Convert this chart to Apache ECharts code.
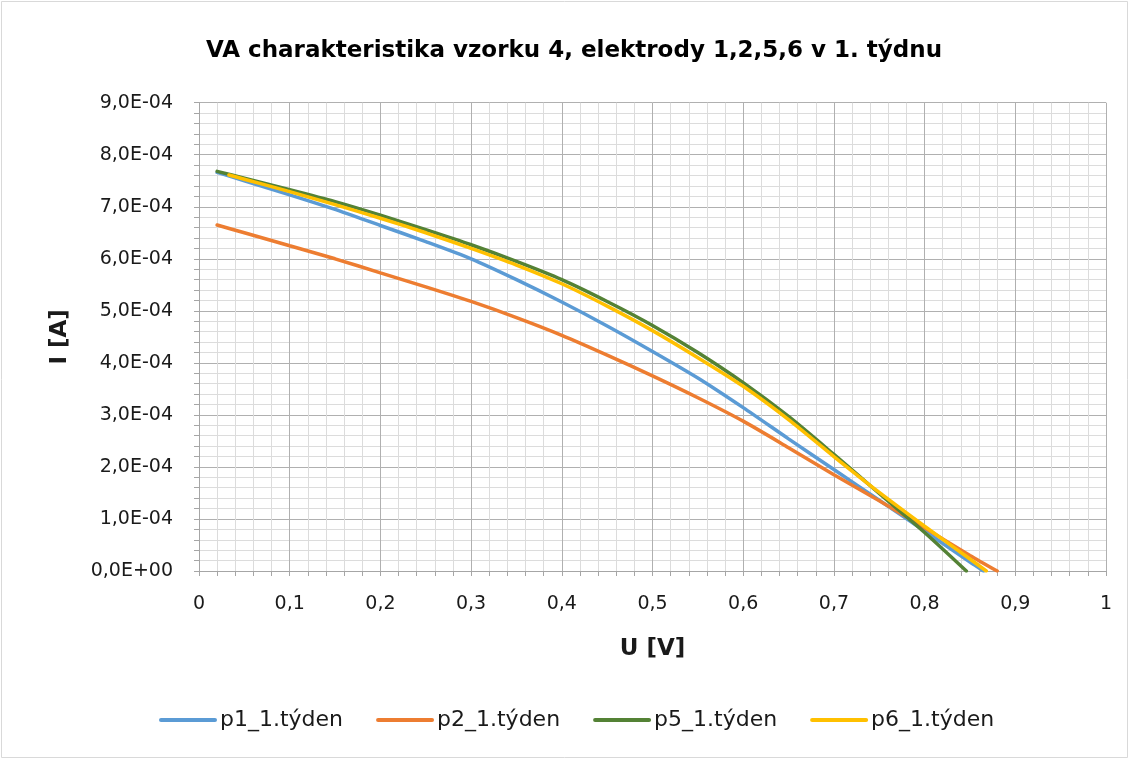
<!DOCTYPE html>
<html>
<head>
<meta charset="utf-8">
<script src="https://cdn.jsdelivr.net/npm/echarts@6/dist/echarts.min.js"></script>
<style>
html,body{margin:0;padding:0;background:#fff;}
#chart{width:1130px;height:760px;}
</style>
</head>
<body>
<div id="chart"></div>
<script>
const titleText = 'VA charakteristika vzorku 4, elektrody 1,2,5,6 v 1. týdnu';
const seriesNames = ['p1_1.týden', 'p2_1.týden', 'p5_1.týden', 'p6_1.týden'];
const seriesColors = ['#5b9bd5', '#ed7d31', '#548235', '#ffc000'];

const p1U = [0.02, 0.05, 0.1, 0.15, 0.2, 0.25, 0.3, 0.35, 0.4, 0.45, 0.5, 0.55, 0.6, 0.65, 0.7, 0.75, 0.8, 0.85, 0.865];
const p1I = [7.66e-4, 7.50e-4, 7.23e-4, 6.95e-4, 6.64e-4, 6.33e-4, 6.00e-4, 5.60e-4, 5.17e-4, 4.71e-4, 4.22e-4, 3.71e-4, 3.14e-4, 2.54e-4, 1.95e-4, 1.36e-4, 0.77e-4, 0.17e-4, 0];

const p2U = [0.02, 0.05, 0.1, 0.15, 0.2, 0.25, 0.3, 0.35, 0.4, 0.45, 0.5, 0.55, 0.6, 0.65, 0.7, 0.75, 0.8, 0.85, 0.88];
const p2I = [6.65e-4, 6.50e-4, 6.25e-4, 6.00e-4, 5.73e-4, 5.46e-4, 5.18e-4, 4.87e-4, 4.53e-4, 4.15e-4, 3.75e-4, 3.33e-4, 2.88e-4, 2.37e-4, 1.85e-4, 1.35e-4, 0.83e-4, 0.30e-4, 0];

const p5U = [0.02, 0.05, 0.1, 0.15, 0.2, 0.25, 0.3, 0.35, 0.4, 0.45, 0.5, 0.55, 0.6, 0.65, 0.7, 0.75, 0.8, 0.846];
const p5I = [7.68e-4, 7.55e-4, 7.33e-4, 7.10e-4, 6.84e-4, 6.56e-4, 6.27e-4, 5.95e-4, 5.60e-4, 5.18e-4, 4.72e-4, 4.20e-4, 3.62e-4, 2.97e-4, 2.24e-4, 1.49e-4, 0.74e-4, 0];

const p6U = [0.033, 0.05, 0.1, 0.15, 0.2, 0.25, 0.3, 0.35, 0.4, 0.45, 0.5, 0.55, 0.6, 0.65, 0.7, 0.75, 0.8, 0.85, 0.868];
const p6I = [7.61e-4, 7.53e-4, 7.29e-4, 7.04e-4, 6.78e-4, 6.50e-4, 6.20e-4, 5.88e-4, 5.52e-4, 5.09e-4, 4.62e-4, 4.10e-4, 3.55e-4, 2.91e-4, 2.20e-4, 1.51e-4, 0.86e-4, 0.23e-4, 0];

const xAxisName = 'U [V]';
const yAxisName = 'I [A]';

const allU = [p1U, p2U, p5U, p6U];
const allI = [p1I, p2I, p5I, p6I];

function fmtY(v) {
  if (Math.abs(v) < 1e-12) return '0,0E+00';
  let e = Math.floor(Math.log10(Math.abs(v)) + 1e-9);
  let m = v / Math.pow(10, e);
  return m.toFixed(1).replace('.', ',') + 'E' + (e < 0 ? '-' : '+') + String(Math.abs(e)).padStart(2, '0');
}
function fmtX(v) {
  return String(Math.round(v * 10) / 10).replace('.', ',');
}

const font = 'DejaVu Sans';
const textColor = '#1a1a1a';
const chart = echarts.init(document.getElementById('chart'), null, {renderer: 'canvas'});
chart.setOption({
  animation: false,
  backgroundColor: '#ffffff',
  title: {
    text: titleText,
    left: 201,
    top: 35,
    textStyle: {fontFamily: font, fontWeight: 'bold', fontSize: 23, color: '#000'}
  },
  graphic: [{
    type: 'rect',
    shape: {x: 1.5, y: 1.5, width: 1126, height: 756},
    style: {fill: 'none', stroke: '#d9d9d9', lineWidth: 1},
    silent: true
  }],
  grid: {left: 199, right: 24, top: 102.7, bottom: 189, containLabel: false},
  legend: {
    bottom: 24,
    left: 154,
    itemWidth: 54,
    itemHeight: 4,
    itemGap: 33,
    lineStyle: {width: 4, cap: 'round'},
    textStyle: {fontFamily: font, fontSize: 22, color: textColor},
    data: seriesNames
  },
  xAxis: {
    type: 'value',
    min: 0, max: 1, interval: 0.1,
    name: xAxisName,
    nameLocation: 'middle',
    nameGap: 67,
    nameTextStyle: {fontFamily: font, fontWeight: 'bold', fontSize: 23, color: textColor},
    axisLine: {show: true, lineStyle: {color: '#a6a6a6', width: 1}},
    axisTick: {show: true, inside: false, length: 5, lineStyle: {color: '#a6a6a6'}},
    minorTick: {show: true, splitNumber: 5, length: 5, lineStyle: {color: '#a6a6a6'}},
    splitLine: {show: true, lineStyle: {color: '#b0b0b0', width: 1}},
    minorSplitLine: {show: true, lineStyle: {color: '#dcdcdc', width: 1}},
    axisLabel: {fontFamily: font, fontSize: 19, color: textColor, margin: 24, formatter: fmtX}
  },
  yAxis: {
    type: 'value',
    min: 0, max: 9e-4, interval: 1e-4,
    name: yAxisName,
    nameLocation: 'middle',
    nameGap: 127,
    nameTextStyle: {fontFamily: font, fontWeight: 'bold', fontSize: 23, color: textColor},
    axisLine: {show: true, lineStyle: {color: '#a6a6a6', width: 1}},
    axisTick: {show: true, inside: false, length: 5, lineStyle: {color: '#a6a6a6'}},
    minorTick: {show: true, splitNumber: 5, length: 5, lineStyle: {color: '#a6a6a6'}},
    splitLine: {show: true, lineStyle: {color: '#b0b0b0', width: 1}},
    minorSplitLine: {show: true, lineStyle: {color: '#dcdcdc', width: 1}},
    axisLabel: {fontFamily: font, fontSize: 19, color: textColor, margin: 26, formatter: fmtY}
  },
  series: seriesNames.map((n, k) => ({
    name: n,
    type: 'line',
    smooth: 0.25,
    symbol: 'none',
    color: seriesColors[k],
    lineStyle: {width: 3.5, color: seriesColors[k], cap: 'round'},
    data: allU[k].map((u, i) => [u, allI[k][i]])
  }))
});
</script>
</body>
</html>
